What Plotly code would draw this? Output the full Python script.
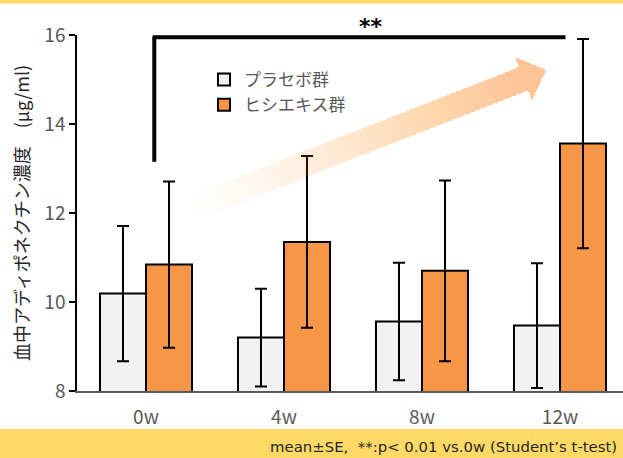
import math
import plotly.graph_objects as go

categories = ["0w", "4w", "8w", "12w"]
placebo_mean = [10.19, 9.20, 9.56, 9.47]
placebo_se = [1.52, 1.10, 1.32, 1.40]
hishi_mean = [10.84, 11.35, 10.70, 13.56]
hishi_se = [1.87, 1.93, 2.03, 2.35]
series_names = ["プラセボ群", "ヒシエキス群"]
y_title = "血中アディポネクチン濃度　(μg/ml)"
footnote = "mean±SE,  **:p< 0.01 vs.0w (Student’s t-test)"

W, H = 623, 458
ML, MR, MT, MB = 77, 0, 35, 67
PW, PH = W - ML - MR, H - MT - MB

def px(x, y):
    return (x - ML) / PW, (H - MB - y) / PH

FONT = "Noto Sans CJK JP"
GRAY = "#595959"

fig = go.Figure()
fig.add_trace(go.Bar(
    x=categories, y=placebo_mean, name=series_names[0],
    marker=dict(color="#F2F2F2", line=dict(color="black", width=2)),
    error_y=dict(type="data", array=placebo_se, color="black", thickness=2, width=6),
))
fig.add_trace(go.Bar(
    x=categories, y=hishi_mean, name=series_names[1],
    marker=dict(color="#F79646", line=dict(color="black", width=2)),
    error_y=dict(type="data", array=hishi_se, color="black", thickness=2, width=6),
))

shapes = []
# yellow frame strips
shapes.append(dict(type="rect", xref="paper", yref="paper", x0=px(0, 0)[0], x1=px(W, 0)[0],
                   y0=px(0, 0)[1], y1=px(0, 3.5)[1], fillcolor="#FFD966", line_width=0, layer="below"))
shapes.append(dict(type="rect", xref="paper", yref="paper", x0=px(0, 0)[0], x1=px(W, 0)[0],
                   y0=px(0, 429)[1], y1=px(0, H)[1], fillcolor="#FFD966", line_width=0, layer="below"))

# gradient arrow (stacked translucent arrows, each starting further along the shaft)
tail = (193, 208)
tip = (546, 70)
dx, dy = tip[0] - tail[0], tip[1] - tail[1]
L = math.hypot(dx, dy)
ux, uy = dx / L, dy / L
nx, ny = -uy, ux
hw, headw, headl = 12.5, 23, 24
shaft_len = L - headl
N = 60
alpha = 1 - (1 - 0.56) ** (1.0 / N)

def pt(t, s):
    return px(tail[0] + ux * t + nx * s, tail[1] + uy * t + ny * s)

for i in range(N):
    t0 = shaft_len * (i / N) ** 0.8
    pts = [pt(t0, -hw), pt(shaft_len, -hw), pt(shaft_len, -headw), pt(L, 0),
           pt(shaft_len, headw), pt(shaft_len, hw), pt(t0, hw)]
    path = "M " + " L ".join(f"{a:.5f},{b:.5f}" for a, b in pts) + " Z"
    shapes.append(dict(type="path", xref="paper", yref="paper", path=path,
                       fillcolor="#F7965A", opacity=alpha, line_width=0, layer="above"))

# significance bracket
bracket_x0, bracket_x1 = 0.06, 3.04
bracket_ytop, bracket_ybot = 15.95, 13.15
shapes.append(dict(type="line", xref="x", yref="y", x0=bracket_x0, x1=bracket_x0,
                   y0=bracket_ybot, y1=bracket_ytop, line=dict(color="black", width=4)))
shapes.append(dict(type="line", xref="x", yref="y", x0=bracket_x0 - 0.012, x1=bracket_x1,
                   y0=bracket_ytop, y1=bracket_ytop, line=dict(color="black", width=4)))

annotations = [
    dict(text="<b>**</b>", x=px(371, 0)[0], y=px(0, 27)[1], xref="paper", yref="paper",
         xanchor="center", yanchor="middle",
         showarrow=False, font=dict(family="DejaVu Sans", size=22, color="black")),
    dict(text=footnote, x=px(619, 0)[0], y=px(0, 447)[1], xref="paper", yref="paper",
         xanchor="right", yanchor="middle", showarrow=False,
         font=dict(family="DejaVu Sans", size=14.9, color="#262626")),
]

fig.update_layout(
    width=W, height=H,
    margin=dict(l=ML, r=MR, t=MT, b=MB),
    paper_bgcolor="white", plot_bgcolor="white",
    barmode="group", bargap=0.333, bargroupgap=0,
    shapes=shapes, annotations=annotations,
    font=dict(family=FONT, color=GRAY),
    legend=dict(x=px(204, 0)[0], y=px(0, 62)[1], xanchor="left", yanchor="top",
                bgcolor="rgba(0,0,0,0)", font=dict(family=FONT, size=17, color=GRAY),
                tracegroupgap=0, itemwidth=30),
    showlegend=True,
)
fig.update_xaxes(range=[-0.5, -0.5 + PW / 138.0], showline=True, linecolor=GRAY, linewidth=1.5,
                 ticks="", tickfont=dict(family=FONT, size=19, color=GRAY), showgrid=False,
                 ticklabelstandoff=8, fixedrange=True)
fig.update_yaxes(range=[8, 16], tickvals=[8, 10, 12, 14, 16], showline=True, linecolor="black",
                 linewidth=1.5, ticks="outside", ticklen=6, tickcolor="black", tickwidth=1.5,
                 tickfont=dict(family=FONT, size=19, color=GRAY), showgrid=False, zeroline=False,
                 title=dict(text=y_title, font=dict(family=FONT, size=18, color="#262626"), standoff=10))

fig.write_html("out.html", config={"displayModeBar": False},
               post_script="document.body.style.margin='0';")
